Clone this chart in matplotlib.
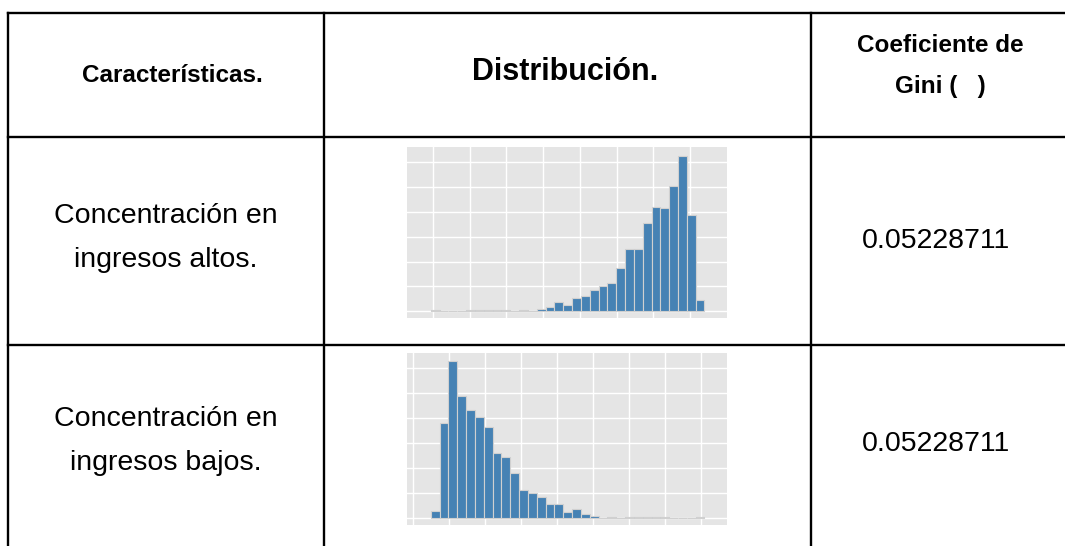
import matplotlib.pyplot as plt
import numpy as np
from matplotlib.ticker import MultipleLocator

plt.rcParams['font.family'] = ['Liberation Sans', 'DejaVu Sans']

# table texts
HEADERS = ['Características.', 'Distribución.', 'Coeficiente de\nGini (   )']
ROW_LABELS = [['Concentración en', 'ingresos altos.'],
              ['Concentración en', 'ingresos bajos.']]
GINI = ['0.05228711', '0.05228711']

# histogram bar heights (31 bins each)
ALTOS = [0.4, 0, 0, 0, 0.7, 0.7, 0.4, 0.4, 0.4, 0, 0.4, 0, 0.9, 1.9, 3.7, 2.5,
         5.3, 6.1, 8.7, 10.3, 11.5, 17.3, 25, 25, 35.3, 42, 41.5, 50.4, 62.4,
         38.7, 4.7]
BAJOS = [3.0, 37.9, 62.7, 48.9, 43.4, 40.5, 36.5, 25.9, 24.3, 18.1, 11.3, 10.1,
         8.6, 5.9, 5.9, 2.6, 3.8, 1.7, 0.8, 0, 0.4, 0, 0.4, 0.4, 0.4, 0.7, 0.7,
         0, 0, 0, 0.4]

W, H = 1065, 546
fig = plt.figure(figsize=(W / 100, H / 100), dpi=100)
ax = fig.add_axes([0, 0, 1, 1])
ax.set_xlim(0, W)
ax.set_ylim(H, 0)
ax.axis('off')

# table grid
lw = 1.7
ax.plot([8, W], [13, 13], color='black', lw=lw)
ax.plot([8, W], [137, 137], color='black', lw=lw)
ax.plot([8, W], [345, 345], color='black', lw=lw)
for x in [8, 324, 811]:
    ax.plot([x, x], [13, H], color='black', lw=lw)

# header
ax.text(172, 75, HEADERS[0], ha='center', va='center', fontsize=17.5, fontweight='bold')
ax.text(565, 72, HEADERS[1], ha='center', va='center', fontsize=22, fontweight='bold')
ax.text(940, 66, HEADERS[2], ha='center', va='center', fontsize=17.5,
        fontweight='bold', linespacing=2.0)

# rows
row_y = [238, 441]
for y, lab, g in zip(row_y, ROW_LABELS, GINI):
    ax.text(166, y - 22, lab[0], ha='center', va='center', fontsize=20.5)
    ax.text(166, y + 22, lab[1], ha='center', va='center', fontsize=20.5)
    ax.text(936, y + 3, g, ha='center', va='center', fontsize=20.5)


def hist_panel(top, bottom, counts, x0, step):
    a = fig.add_axes([407 / W, 1 - bottom / H, 320 / W, (bottom - top) / H])
    a.set_facecolor('#E5E5E5')
    xs = np.arange(len(counts))
    a.bar(xs, counts, width=1, align='edge', color='#4682B4',
          edgecolor='#D0D0D0', linewidth=0.8, zorder=2)
    a.set_xlim(-2.7, 33.55)
    a.set_ylim(-2.67, 66)
    a.set_xticks(np.arange(x0, 33, step))
    a.yaxis.set_major_locator(MultipleLocator(10))
    a.grid(True, color='white', lw=1, zorder=0)
    a.set_axisbelow(True)
    a.tick_params(length=0, labelbottom=False, labelleft=False)
    for s in a.spines.values():
        s.set_visible(False)


hist_panel(147, 318, ALTOS, 0.24, 4.16)
hist_panel(353, 525, BAJOS, -2.0, 4.07)

fig.savefig('out.png', dpi=100)
